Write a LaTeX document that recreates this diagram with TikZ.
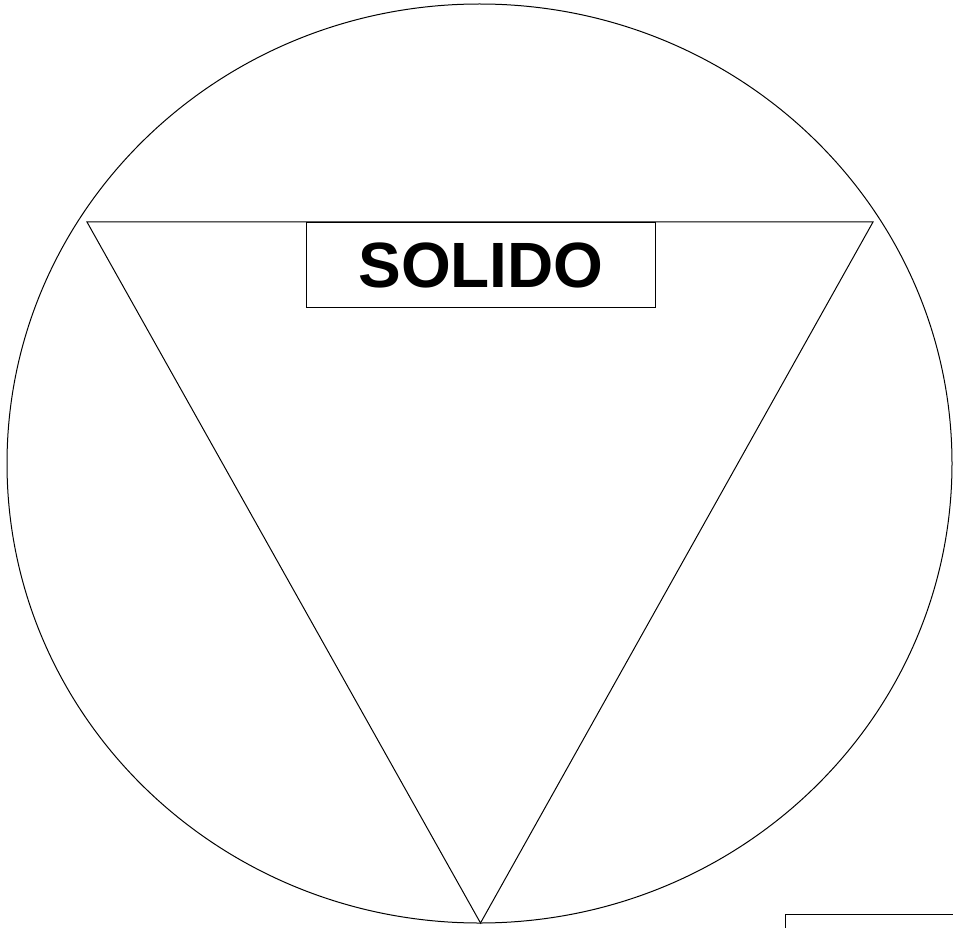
\documentclass[tikz,border=0pt]{standalone}
\usepackage{fontspec}
\setmainfont{Liberation Sans}
\usetikzlibrary{positioning}

\begin{document}
\begin{tikzpicture}[
  x=1pt, y=-1pt,
  line width=1pt,
  outline/.style={draw=black},
  tag/.style={draw, rectangle, minimum width=349pt, minimum height=85pt,
              inner sep=0pt, font=\fontsize{64}{70}\selectfont\bfseries},
  stub/.style={draw, rectangle, minimum width=200pt, minimum height=60pt,
               anchor=north west},
]
  \clip (0,0) rectangle (953,928);

  % outer ring
  \draw[outline] (479.5,463.5) ellipse [x radius=472.5pt, y radius=459.5pt];

  % inverted triangle
  \coordinate (tl) at (87,222);
  \coordinate (tr) at (873,222);
  \coordinate (bt) at (480.5,923);
  \draw[outline] (tl) -- (tr) -- (bt) -- cycle;

  \node[tag, anchor=north] (solido) at (481,222) {SOLIDO};

  % box cut by the page edge
  \node[stub] (corner) at (785,914) {};
\end{tikzpicture}
\end{document}
